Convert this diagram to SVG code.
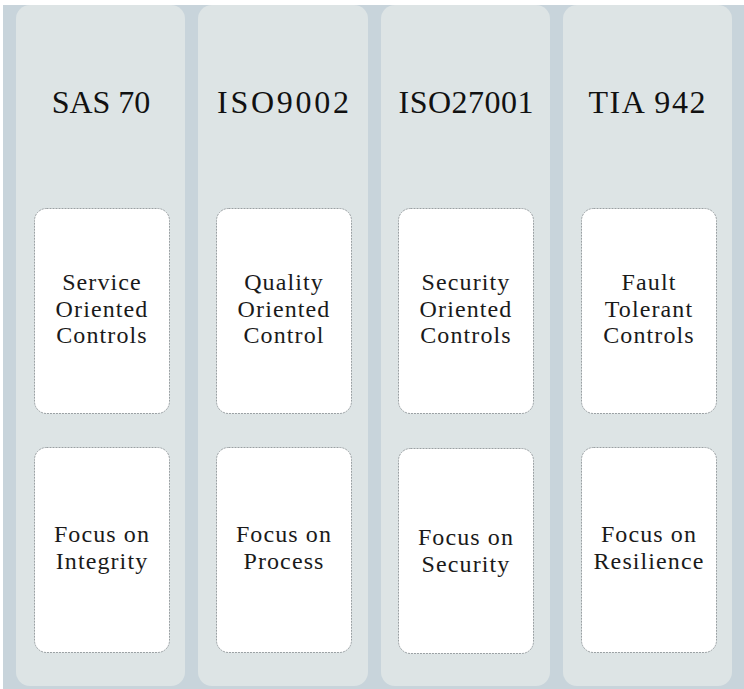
<svg xmlns="http://www.w3.org/2000/svg" width="744" height="689" viewBox="0 0 744 689">
  <style>
    .col { fill: #dde4e5; }
    .card { fill: #ffffff; stroke: #9aa0a3; stroke-width: 1; stroke-dasharray: 2 1; }
    .title { font-family: "Liberation Serif", "Times New Roman", serif; font-size: 32px; fill: #111; text-anchor: middle; }
    .txt { font-family: "Liberation Serif", "Times New Roman", serif; font-size: 24px; letter-spacing: 1.1px; fill: #1a1a1a; text-anchor: middle; }
  </style>
  <rect x="0" y="0" width="744" height="689" fill="#ffffff"/>
  <rect x="3" y="5" width="741" height="684" fill="#c8d4db"/>

  <g id="col-sas70">
    <rect class="col" x="16" y="5" width="169" height="681" rx="14"/>
    <text class="title" x="101" y="113">SAS 70</text>
    <g id="card-sas70-controls">
      <rect class="card" x="34.5" y="208.5" width="135" height="205" rx="12"/>
      <text class="txt" x="102" y="290">Service</text>
      <text class="txt" x="102" y="316.5">Oriented</text>
      <text class="txt" x="102" y="343">Controls</text>
    </g>
    <g id="card-sas70-focus">
      <rect class="card" x="34.5" y="447.5" width="135" height="205" rx="12"/>
      <text class="txt" x="102" y="542">Focus on</text>
      <text class="txt" x="102" y="568.5">Integrity</text>
    </g>
  </g>

  <g id="col-iso9002">
    <rect class="col" x="198" y="5" width="170" height="681" rx="14"/>
    <text class="title" x="283" y="113" textLength="132" lengthAdjust="spacing">ISO9002</text>
    <g id="card-iso9002-controls">
      <rect class="card" x="216.5" y="208.5" width="135" height="205" rx="12"/>
      <text class="txt" x="284" y="290">Quality</text>
      <text class="txt" x="284" y="316.5">Oriented</text>
      <text class="txt" x="284" y="343">Control</text>
    </g>
    <g id="card-iso9002-focus">
      <rect class="card" x="216.5" y="447.5" width="135" height="205" rx="12"/>
      <text class="txt" x="284" y="542">Focus on</text>
      <text class="txt" x="284" y="568.5">Process</text>
    </g>
  </g>

  <g id="col-iso27001">
    <rect class="col" x="381" y="5" width="169" height="681" rx="14"/>
    <text class="title" x="466" y="113" textLength="135" lengthAdjust="spacing">ISO27001</text>
    <g id="card-iso27001-controls">
      <rect class="card" x="398.5" y="208.5" width="135" height="205" rx="12"/>
      <text class="txt" x="466" y="290">Security</text>
      <text class="txt" x="466" y="316.5">Oriented</text>
      <text class="txt" x="466" y="343">Controls</text>
    </g>
    <g id="card-iso27001-focus">
      <rect class="card" x="398.5" y="448.5" width="135" height="205" rx="12"/>
      <text class="txt" x="466" y="545">Focus on</text>
      <text class="txt" x="466" y="571.5">Security</text>
    </g>
  </g>

  <g id="col-tia942">
    <rect class="col" x="563" y="5" width="169" height="681" rx="14"/>
    <text class="title" x="647" y="113" textLength="117" lengthAdjust="spacing">TIA 942</text>
    <g id="card-tia942-controls">
      <rect class="card" x="581.5" y="208.5" width="135" height="205" rx="12"/>
      <text class="txt" x="649" y="290">Fault</text>
      <text class="txt" x="649" y="316.5">Tolerant</text>
      <text class="txt" x="649" y="343">Controls</text>
    </g>
    <g id="card-tia942-focus">
      <rect class="card" x="581.5" y="447.5" width="135" height="205" rx="12"/>
      <text class="txt" x="649" y="542">Focus on</text>
      <text class="txt" x="649" y="568.5">Resilience</text>
    </g>
  </g>

  <g id="connectors"/>
</svg>
